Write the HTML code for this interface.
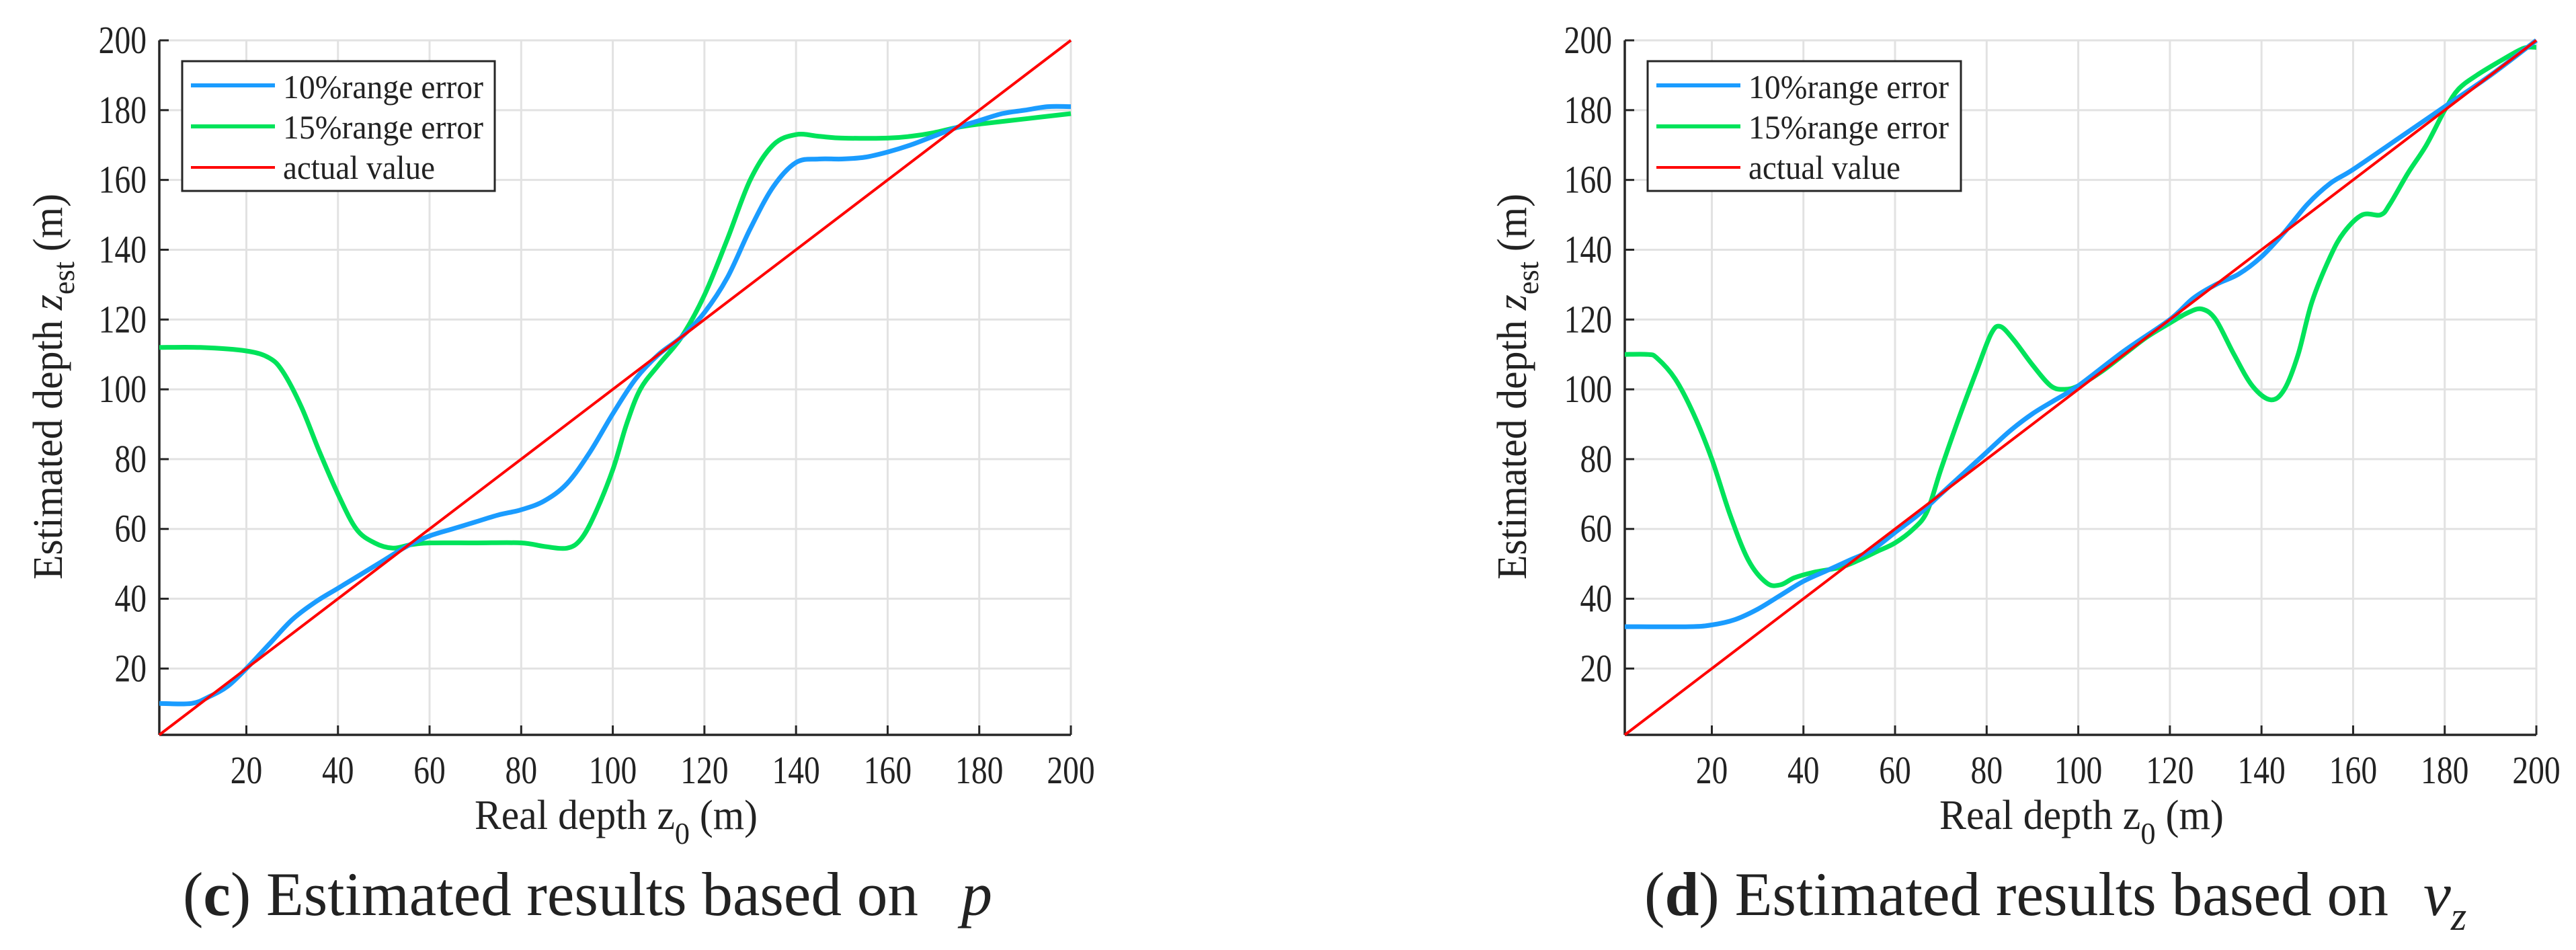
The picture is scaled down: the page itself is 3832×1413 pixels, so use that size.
<!DOCTYPE html>
<html><head><meta charset="utf-8"><style>
html,body{margin:0;padding:0;background:#fff;}
svg text{font-family:"Liberation Serif","DejaVu Serif",serif;fill:#222;}
</style></head><body>
<svg id="fig" width="3832" height="1408" viewBox="0 0 3832 1408" font-family="Liberation Serif, DejaVu Serif, serif" xmlns="http://www.w3.org/2000/svg"></svg>
<script>
const xTicks=[20,40,60,80,100,120,140,160,180,200];
const yTicks=[20,40,60,80,100,120,140,160,180,200];
const legendLabels=["10%range error","15%range error","actual value"];
// Panel c
const cX10=[1,8,12,16,20,25,30,35,40,45,50,55,60,65,70,75,80,85,90,95,100,105,110,115,120,125,130,135,140,145,150,155,160,165,170,175,180,185,190,195,200];
const cY10=[10,10,12,15,20,27,34,39,43,47,51,55,58,60,62,64,65.5,68,73,82,93,103,110,115,122,132,146,158,165,166,166,166.5,168,170,172.5,175,177,179,180,181,181];
const cX15=[1,10,20,25,28,32,36,40,44,48,52,56,60,70,80,85,90,93,96,100,103,106,110,115,120,125,130,135,140,145,150,160,165,170,175,180,190,200];
const cY15=[112,112,111,109,105,95,82,70,60,56,54.5,55.5,56,56,56,55,54.5,57,64,77,90,100,107,115,127,143,160,170,173,172.5,172,172,172.5,173.5,175,176,177.5,179];
// Panel d
const dX10=[1,15,20,25,30,35,40,45,50,55,60,65,70,75,80,85,90,95,100,110,120,125,130,135,140,145,150,155,160,170,180,190,200];
const dY10=[32,32,32.5,34,37,41,45,48,51,54,59,64,70,76,82,88,93,97,101,111,120,126,130,133,138,145,153,159,163,172,181,190,200];
const dX15=[1,6,8,12,16,20,24,28,32,35,38,42,48,52,56,60,64,67,70,74,78,81,83,86,90,94,97,100,105,110,115,120,124,127,130,134,138,142,145,148,151,155,158,162,166,168,172,176,180,183,187,192,196,198,200];
const dY15=[110,110,109,103,93,80,64,51,44.5,44,46,47.5,49,51,53.5,56,60,65,77,92,106,116,118,114,107,101,100,101,105,110,115,119,122,123,120,110,101,97,100,110,125,138,145,150,150,153,162,170,180,186,190,194,197,198,198];
const actX=[1,200];
const actY=[1,200];

const NS="http://www.w3.org/2000/svg";
const FONT='"Liberation Serif","DejaVu Serif",serif';
const svg=document.getElementById('fig');
function mk(tag,attrs,parent){const e=document.createElementNS(NS,tag);for(const k in attrs)e.setAttribute(k,attrs[k]);if(tag==='text'){e.setAttribute('font-family','Liberation Serif, DejaVu Serif, serif');e.style.fontFamily=FONT;}(parent||svg).appendChild(e);return e;}
function smooth(pts){let d=`M${pts[0][0]},${pts[0][1]}`;for(let i=0;i<pts.length-1;i++){const p0=pts[Math.max(i-1,0)],p1=pts[i],p2=pts[i+1],p3=pts[Math.min(i+2,pts.length-1)];const t=6;d+=` C${p1[0]+(p2[0]-p0[0])/t},${p1[1]+(p2[1]-p0[1])/t} ${p2[0]-(p3[0]-p1[0])/t},${p2[1]-(p3[1]-p1[1])/t} ${p2[0]},${p2[1]}`;}return d;}

function panel(cfg){
  const g=mk('g',{});
  
  
  const X0=cfg.x0,X1=cfg.x1,Y0=1093,Y1=60;
  const sx=v=>X0+(v-1)/199*(X1-X0);
  const sy=v=>Y0-(v-1)/199*(Y0-Y1);
  const grid=mk('g',{},g);
  
  
  xTicks.forEach(t=>{mk('line',{x1:sx(t),x2:sx(t),y1:Y1,y2:Y0,stroke:'#e2e2e2','stroke-width':3},grid);});
  yTicks.forEach(t=>{mk('line',{x1:X0,x2:X1,y1:sy(t),y2:sy(t),stroke:'#e2e2e2','stroke-width':3},grid);});
  const ax=mk('g',{},g);
  
  
  mk('line',{x1:X0,x2:X0,y1:Y1,y2:Y0,stroke:'#262626','stroke-width':3.5},ax);
  mk('line',{x1:X0,x2:X1,y1:Y0,y2:Y0,stroke:'#262626','stroke-width':3.5},ax);
  xTicks.forEach(t=>{
    mk('line',{x1:sx(t),x2:sx(t),y1:Y0,y2:Y0-14,stroke:'#262626','stroke-width':3},ax);
    const tx=mk('text',{x:0,y:0,'font-size':58,'text-anchor':'middle',transform:`translate(${sx(t)},1165) scale(0.82,1)`},ax);
    tx.textContent=t;
    
    
  });
  yTicks.forEach(t=>{
    mk('line',{x1:X0,x2:X0+14,y1:sy(t),y2:sy(t),stroke:'#262626','stroke-width':3},ax);
    const tx=mk('text',{x:0,y:0,'font-size':58,'text-anchor':'end',transform:`translate(${X0-19},${sy(t)+19}) scale(0.82,1)`},ax);
    tx.textContent=t;
    
    
  });
  const series=[[cfg.x15,cfg.y15,'#00e35a',7,'series-15pct'],[cfg.x10,cfg.y10,'#1a9cff',7,'series-10pct'],[actX,actY,'#ff0000',4,'series-actual']];
  series.forEach(s=>{
    const pts=s[0].map((x,i)=>[sx(x),sy(s[1][i])]);
    const p=mk('path',{d:smooth(pts),fill:'none',stroke:s[2],'stroke-width':s[3],'stroke-linejoin':'round'},g);
    
    
  });
  const lg=mk('g',{},g);
  
  
  const L=cfg.lx;
  mk('rect',{x:L,y:91,width:cfg.lw,height:193,fill:'#fff',stroke:'#262626','stroke-width':3},lg);
  const cols=['#1a9cff','#00e35a','#ff0000'];
  legendLabels.forEach((lab,i)=>{
    const e=mk('g',{},lg);
    
    
    mk('line',{x1:L+13,x2:L+138,y1:127+61*i,y2:127+61*i,stroke:cols[i],'stroke-width':i==2?4:6},e);
    const t=mk('text',{x:L+150,y:146+60*i,'font-size':50,textLength:i==2?226:298,lengthAdjust:'spacingAndGlyphs'},e);
    t.textContent=lab;
  });
  const xl=mk('text',{x:cfg.xlx,y:1233,'font-size':62,textLength:cfg.xlw,lengthAdjust:'spacingAndGlyphs'},g);
  xl.innerHTML='Real depth z<tspan dy="22" font-size="46">0</tspan><tspan dy="-22"> (m)</tspan>';
  
  
  const yl=mk('text',{x:0,y:0,'font-size':62,'text-anchor':'middle',transform:`translate(${cfg.ylx},575) rotate(-90)`,textLength:574,lengthAdjust:'spacingAndGlyphs'},g);
  yl.innerHTML='Estimated depth <tspan font-style="italic">z</tspan><tspan dy="18" font-size="46">est</tspan><tspan dy="-18"> (m)</tspan>';
  
  
  const cp=mk('text',{x:cfg.cx,y:1361,'font-size':92,fill:'#000',textLength:cfg.cw,lengthAdjust:'spacingAndGlyphs'},g);
  cp.innerHTML=`(<tspan font-weight="bold">${cfg.letter}</tspan>) Estimated results based on`;
  
  
  const sym=mk('text',{x:cfg.sx,y:1361,'font-size':92,'font-style':'italic',fill:'#000'},g);
  sym.innerHTML=cfg.sym;
  
  
}
panel({name:'panel-c',x0:237,x1:1593,x10:cX10,y10:cY10,x15:cX15,y15:cY15,lx:271,lw:465,xlx:706,xlw:421,ylx:92,cx:272,cw:1094,letter:'c',sx:1430,sym:'p'});
panel({name:'panel-d',x0:2417,x1:3773,x10:dX10,y10:dY10,x15:dX15,y15:dY15,lx:2451,lw:466,xlx:2885,xlw:423,ylx:2270,cx:2446,cw:1107,letter:'d',sx:3605,sym:'v<tspan dy="22" font-size="60">z</tspan>'});
</script>
</body></html>
